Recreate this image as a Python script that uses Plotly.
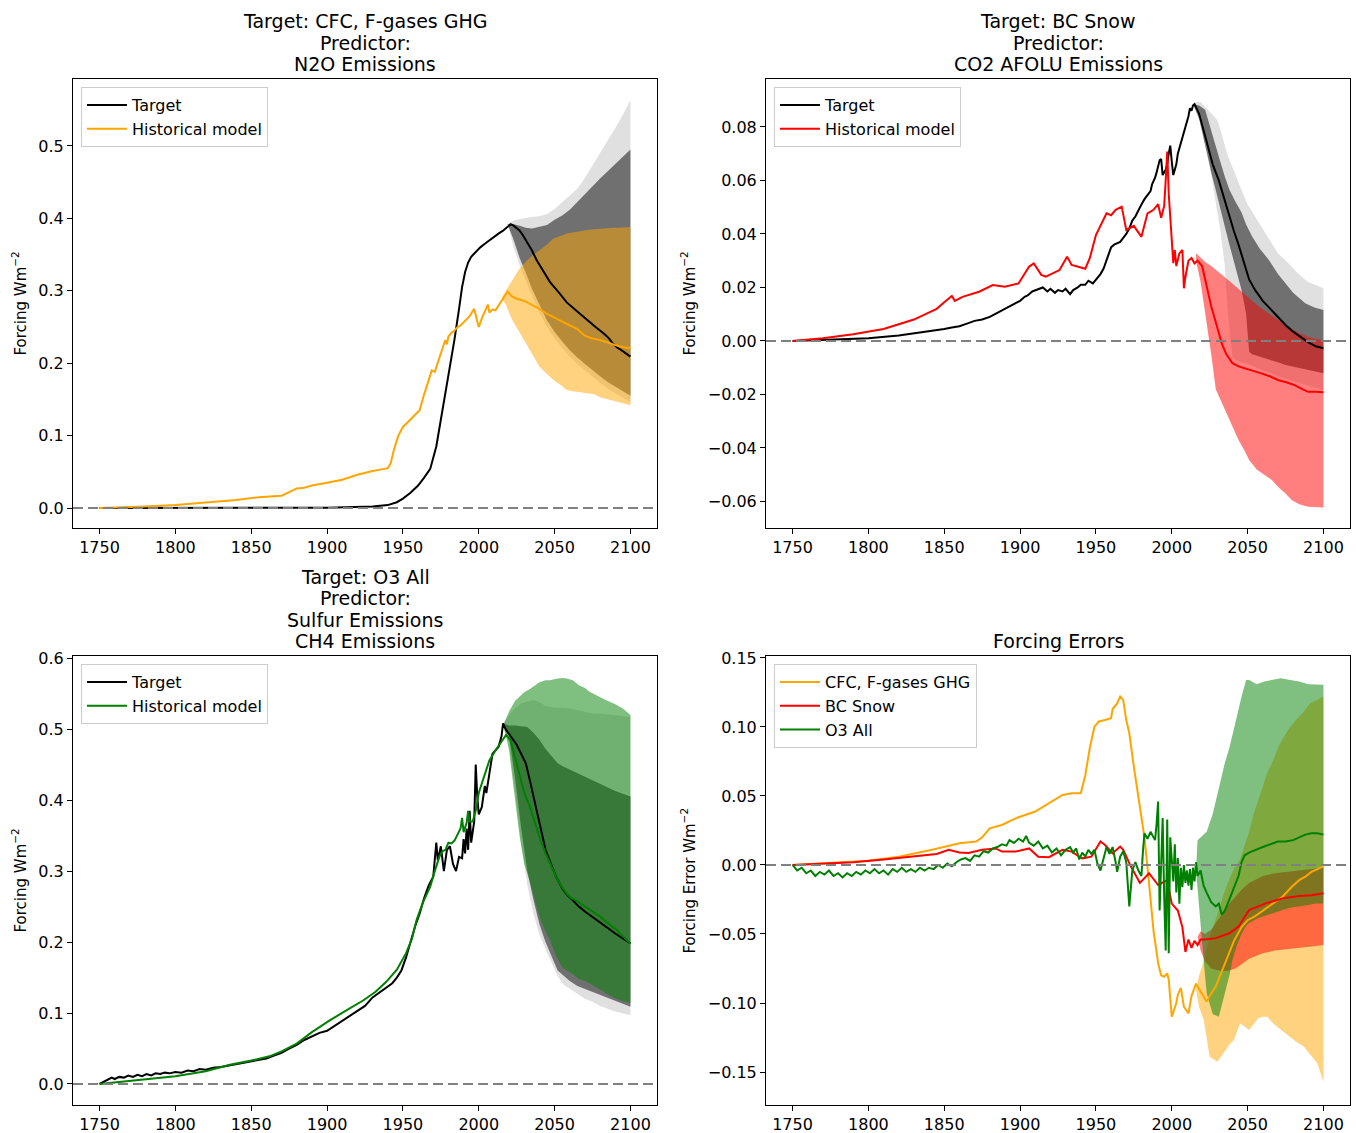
import plotly.graph_objects as go

FONT = "DejaVu Sans"
W, H = 1356, 1133

# ---------------- Panel 1: Target CFC, F-gases GHG ----------------
P1_TARGET = [(1750,0.0),(1800,0.0),(1850,0.0),(1900,0.0005),(1930,0.002),(1940,0.004),(1946,0.008),(1950,0.013),
             (1955,0.021),(1960,0.031),(1964,0.042),(1968,0.054),(1972,0.085),(1976,0.133),(1980,0.183),(1984,0.233),
             (1987,0.275),(1989,0.305),(1991,0.326),(1993,0.339),(1995,0.347),(1998,0.354),(2001,0.36),(2004,0.365),
             (2007,0.37),(2010,0.375),(2013,0.379),(2016,0.383),(2019,0.389),(2021,0.392),(2023,0.39),(2025,0.387),
             (2027,0.383),(2029,0.377),(2032,0.367),(2035,0.356),(2038,0.343),(2042,0.329),(2047,0.312),(2053,0.297),
             (2058,0.284),(2064,0.273),(2070,0.262),(2077,0.25),(2083,0.24),(2086,0.234),(2088,0.228),(2091,0.222),
             (2094,0.218),(2097,0.213),(2100,0.209)]
P1_MODEL = [(1750,0.0),(1760,0.0005),(1780,0.002),(1800,0.004),(1820,0.007),(1840,0.011),(1855,0.015),(1870,0.017),
            (1875,0.022),(1880,0.027),(1885,0.028),(1890,0.031),(1900,0.035),(1910,0.039),(1920,0.046),(1925,0.049),
            (1930,0.051),(1935,0.053),(1940,0.055),(1942,0.062),(1944,0.08),(1947,0.1),(1950,0.112),(1953,0.118),
            (1957,0.126),(1961,0.135),(1964,0.157),(1967,0.178),(1969,0.19),(1971,0.188),(1974,0.209),(1976,0.22),
            (1978,0.232),(1979,0.226),(1980,0.237),(1982,0.242),(1984,0.245),(1986,0.25),(1988,0.252),(1990,0.256),
            (1992,0.261),(1994,0.265),(1996,0.272),(1997,0.275),(1999,0.258),(2000,0.25),(2002,0.262),(2004,0.272),
            (2006,0.281),(2007,0.27),(2009,0.274),(2011,0.273),(2013,0.28),(2016,0.29),(2019,0.299),(2022,0.292),
            (2025,0.289),(2030,0.286),(2035,0.281),(2040,0.275),(2045,0.268),(2050,0.263),(2055,0.258),(2060,0.253),
            (2065,0.247),(2070,0.238),(2075,0.234),(2080,0.232),(2085,0.228),(2090,0.225),(2095,0.222),(2100,0.221)]
# (year, lower, upper)
P1_MODEL_BAND = [(2015,0.29,0.29),(2018,0.28,0.30),(2022,0.26,0.315),(2026,0.245,0.328),(2031,0.228,0.34),
                 (2036,0.21,0.35),(2040,0.195,0.356),(2045,0.185,0.364),(2049,0.177,0.372),(2054,0.17,0.376),
                 (2058,0.163,0.379),(2063,0.161,0.381),(2067,0.16,0.383),(2071,0.159,0.384),(2076,0.157,0.385),
                 (2080,0.153,0.386),(2084,0.15,0.386),(2088,0.148,0.387),(2092,0.146,0.387),(2096,0.144,0.388),
                 (2100,0.142,0.388)]
P1_TARGET_WIDE = [(2019,0.392,0.392),(2023,0.36,0.397),(2027,0.335,0.399),(2031,0.315,0.401),(2035,0.293,0.402),
                  (2040,0.27,0.403),(2045,0.25,0.406),(2050,0.234,0.413),(2055,0.221,0.422),(2060,0.209,0.432),
                  (2065,0.199,0.441),(2070,0.19,0.456),(2075,0.181,0.473),(2080,0.173,0.49),(2085,0.165,0.508),
                  (2090,0.158,0.525),(2095,0.152,0.543),(2100,0.146,0.563)]
P1_TARGET_NARROW = [(2019,0.392,0.392),(2023,0.37,0.392),(2027,0.345,0.39),(2031,0.325,0.387),(2035,0.303,0.386),
                    (2040,0.28,0.388),(2045,0.259,0.391),(2050,0.243,0.398),(2055,0.23,0.404),(2060,0.218,0.412),
                    (2065,0.208,0.423),(2070,0.199,0.434),(2075,0.19,0.445),(2080,0.182,0.455),(2085,0.174,0.465),
                    (2090,0.167,0.475),(2095,0.161,0.485),(2100,0.155,0.495)]

# ---------------- Panel 2: Target BC Snow ----------------
P2_TARGET = [(1750,0.0),(1760,0.0002),(1780,0.0005),(1800,0.001),(1820,0.002),(1840,0.0035),(1850,0.0045),
             (1855,0.005),(1860,0.0055),(1865,0.0065),(1870,0.0075),(1875,0.008),(1880,0.009),(1885,0.0105),
             (1890,0.012),(1895,0.0135),(1900,0.015),(1903,0.0165),(1905,0.017),(1908,0.0185),(1910,0.019),
             (1913,0.0195),(1915,0.02),(1918,0.0185),(1920,0.0195),(1923,0.018),(1925,0.019),(1928,0.0185),
             (1930,0.0195),(1933,0.0175),(1935,0.019),(1938,0.02),(1940,0.021),(1943,0.021),(1945,0.0225),
             (1948,0.0215),(1950,0.023),(1953,0.025),(1955,0.027),(1958,0.032),(1960,0.035),(1962,0.036),
             (1964,0.0365),(1966,0.037),(1968,0.0385),(1970,0.04),(1972,0.042),(1974,0.045),(1976,0.0465),
             (1978,0.049),(1980,0.051),(1982,0.053),(1984,0.0545),(1986,0.056),(1987,0.0585),(1989,0.061),
             (1990,0.063),(1991,0.065),(1992,0.0675),(1993,0.068),(1994,0.062),(1996,0.064),(1997,0.066),
             (1998,0.07),(1999,0.073),(2000,0.067),(2001,0.062),(2002,0.064),(2003,0.066),(2004,0.07),(2006,0.074),
             (2008,0.078),(2009,0.08),(2011,0.084),(2012,0.087),(2013,0.086),(2014,0.088),(2015,0.0885),
             (2018,0.085),(2021,0.079),(2024,0.072),(2027,0.066),(2031,0.06),(2034,0.054),(2038,0.047),(2041,0.041),
             (2044,0.036),(2047,0.03),(2051,0.023),(2055,0.019),(2060,0.015),(2065,0.012),(2070,0.009),(2075,0.006),
             (2080,0.0035),(2085,0.0015),(2090,-0.0005),(2095,-0.002),(2100,-0.0027)]
P2_MODEL = [(1750,0.0),(1770,0.001),(1790,0.0025),(1810,0.0045),(1830,0.008),(1845,0.012),(1850,0.0145),
            (1853,0.016),(1855,0.0168),(1857,0.015),(1862,0.0165),(1873,0.0184),(1882,0.0209),(1890,0.0203),
            (1899,0.0215),(1906,0.0278),(1909,0.029),(1914,0.0247),(1917,0.024),(1926,0.0265),(1931,0.0315),
            (1934,0.0284),(1943,0.027),(1946,0.031),(1950,0.0396),(1957,0.0477),(1960,0.047),(1963,0.049),
            (1967,0.0502),(1970,0.0415),(1975,0.043),(1980,0.0389),(1984,0.0477),(1988,0.049),(1991,0.0511),
            (1993,0.046),(1995,0.0505),(1996,0.06),(1997,0.0708),(1998,0.055),(1999,0.046),(2000,0.036),
            (2001,0.0291),(2002,0.034),(2003,0.028),(2005,0.0327),(2007,0.034),(2008,0.0197),(2009,0.024),
            (2011,0.03),(2013,0.031),(2015,0.029),(2017,0.03),(2020,0.028),(2023,0.021),(2026,0.013),(2030,0.005),
            (2033,-0.001),(2036,-0.005),(2040,-0.0083),(2044,-0.0095),(2048,-0.0102),(2054,-0.011),(2059,-0.0121),
            (2065,-0.0133),(2070,-0.0146),(2076,-0.0155),(2081,-0.0165),(2086,-0.018),(2090,-0.019),(2095,-0.019),
            (2100,-0.0192)]
P2_MODEL_BAND = [(2016,0.03,0.0328),(2019,0.022,0.031),(2022,0.0103,0.0295),(2026,-0.005,0.028),(2029,-0.018,0.0265),
                 (2032,-0.022,0.025),(2035,-0.0258,0.0238),(2040,-0.032,0.0215),(2044,-0.037,0.0195),
                 (2048,-0.041,0.0178),(2051,-0.0445,0.016),(2056,-0.048,0.0135),(2062,-0.0505,0.011),
                 (2066,-0.052,0.0095),(2070,-0.0545,0.0079),(2075,-0.057,0.006),(2079,-0.0594,0.0045),
                 (2084,-0.061,0.003),(2090,-0.062,0.0015),(2095,-0.0622,0.0008),(2100,-0.0622,0.0004)]
P2_TARGET_WIDE = [(2014,0.0885,0.0885),(2017,0.087,0.0895),(2019,0.085,0.0893),(2022,0.077,0.0875),
                  (2025,0.0664,0.0855),(2028,0.055,0.084),(2030,0.048,0.0826),(2032,0.0415,0.079),(2035,0.0278,0.073),
                  (2037,0.0103,0.069),(2040,-0.006,0.065),(2042,-0.007,0.062),(2046,-0.008,0.0564),(2050,-0.0085,0.051),
                  (2055,-0.0097,0.0465),(2060,-0.011,0.042),(2065,-0.012,0.0375),(2070,-0.0133,0.0328),
                  (2077,-0.0145,0.029),(2083,-0.0155,0.0253),(2090,-0.0167,0.022),(2100,-0.0183,0.0197)]
P2_TARGET_NARROW = [(2014,0.0885,0.0885),(2018,0.083,0.088),(2022,0.0726,0.0864),(2026,0.063,0.079),
                    (2029,0.0564,0.0726),(2032,0.05,0.067),(2035,0.0427,0.0614),(2038,0.036,0.0565),
                    (2042,0.0278,0.052),(2044,0.023,0.0502),(2046,0.019,0.048),(2049,0.0103,0.0435),
                    (2051,-0.004,0.041),(2053,-0.005,0.039),(2058,-0.006,0.0345),(2064,-0.007,0.0303),
                    (2070,-0.008,0.025),(2075,-0.009,0.0216),(2080,-0.0095,0.018),(2088,-0.0105,0.0141),
                    (2094,-0.0113,0.0125),(2100,-0.0121,0.0116)]

# ---------------- Panel 3: Target O3 All ----------------
P3_TARGET = [(1750,0.0),(1753,0.003),(1756,0.006),(1758,0.009),(1760,0.007),(1763,0.01),(1766,0.009),(1769,0.012),
             (1772,0.01),(1775,0.013),(1778,0.011),(1781,0.014),(1784,0.012),(1787,0.015),(1790,0.014),(1793,0.016),
             (1796,0.015),(1800,0.017),(1804,0.016),(1808,0.019),(1812,0.018),(1816,0.021),(1820,0.02),(1825,0.023),
             (1830,0.024),(1835,0.026),(1840,0.028),(1845,0.03),(1850,0.032),(1855,0.034),(1860,0.036),(1865,0.04),
             (1870,0.044),(1875,0.05),(1880,0.055),(1885,0.062),(1890,0.067),(1895,0.072),(1900,0.075),(1905,0.082),
             (1910,0.09),(1915,0.097),(1920,0.104),(1925,0.11),(1930,0.122),(1935,0.13),(1940,0.137),(1943,0.142),
             (1946,0.15),(1949,0.16),(1952,0.178),(1955,0.2),(1958,0.222),(1961,0.24),(1964,0.262),(1967,0.28),
             (1970,0.292),(1972,0.34),(1973,0.315),(1975,0.335),(1977,0.3),(1979,0.33),(1981,0.335),(1983,0.31),
             (1985,0.3),(1987,0.32),(1989,0.318),(1990,0.345),(1991,0.325),(1992,0.36),(1993,0.33),(1994,0.385),
             (1995,0.34),(1997,0.37),(1998,0.45),(1999,0.405),(2000,0.38),(2002,0.39),(2004,0.42),(2005,0.41),
             (2007,0.44),(2009,0.465),(2011,0.47),(2013,0.475),(2015,0.49),(2016,0.508),(2018,0.499),(2021,0.49),
             (2025,0.478),(2028,0.465),(2031,0.452),(2034,0.425),(2038,0.386),(2041,0.355),(2044,0.33),(2048,0.308),
             (2051,0.292),(2055,0.276),(2058,0.267),(2062,0.259),(2066,0.25),(2070,0.243),(2075,0.235),(2080,0.228),
             (2085,0.22),(2090,0.212),(2095,0.205),(2100,0.198)]
P3_MODEL = [(1750,0.0),(1760,0.002),(1780,0.006),(1800,0.011),(1820,0.018),(1836,0.027),(1850,0.033),(1862,0.039),
            (1870,0.046),(1880,0.057),(1890,0.073),(1902,0.09),(1913,0.104),(1924,0.118),(1932,0.13),(1939,0.144),
            (1946,0.161),(1952,0.184),(1956,0.205),(1959,0.231),(1963,0.255),(1968,0.278),(1971,0.3),(1974,0.32),
            (1976,0.328),(1978,0.33),(1980,0.34),(1982,0.339),(1984,0.343),(1986,0.352),(1988,0.36),(1989,0.375),
            (1990,0.355),(1992,0.368),(1993,0.385),(1994,0.37),(1996,0.37),(1998,0.385),(2000,0.41),(2003,0.43),
            (2007,0.456),(2011,0.47),(2014,0.48),(2018,0.492),(2021,0.484),(2024,0.46),(2027,0.433),(2030,0.41),
            (2034,0.389),(2037,0.368),(2040,0.348),(2044,0.325),(2047,0.31),(2051,0.292),(2054,0.28),(2058,0.268),
            (2061,0.262),(2064,0.259),(2068,0.253),(2071,0.249),(2076,0.242),(2080,0.236),(2085,0.227),(2091,0.217),
            (2095,0.208),(2100,0.198)]
P3_MODEL_BAND = [(2016,0.505,0.505),(2018,0.49,0.515),(2020,0.47,0.525),(2024,0.40,0.54),(2027,0.348,0.5455),
                 (2030,0.31,0.552),(2034,0.283,0.557),(2037,0.26,0.562),(2040,0.236,0.566),(2044,0.215,0.569),
                 (2047,0.203,0.569),(2051,0.18,0.571),(2055,0.165,0.572),(2058,0.16,0.5714),(2062,0.155,0.569),
                 (2066,0.148,0.562),(2070,0.145,0.558),(2073,0.142,0.5526),(2078,0.136,0.547),(2084,0.128,0.5408),
                 (2090,0.121,0.535),(2095,0.117,0.529),(2100,0.114,0.52)]
P3_TARGET_WIDE = [(2016,0.508,0.508),(2020,0.48,0.52),(2024,0.41,0.53),(2028,0.34,0.536),(2032,0.28,0.539),
                  (2036,0.24,0.541),(2040,0.21,0.538),(2044,0.19,0.533),(2048,0.17,0.531),(2052,0.152,0.531),
                  (2056,0.14,0.53),(2060,0.134,0.529),(2065,0.127,0.527),(2070,0.12,0.524),(2075,0.116,0.522),
                  (2080,0.11,0.522),(2085,0.106,0.521),(2090,0.102,0.52),(2095,0.099,0.519),(2100,0.097,0.517)]
P3_TARGET_NARROW = [(2016,0.508,0.508),(2020,0.49,0.505),(2024,0.43,0.505),(2028,0.36,0.504),(2032,0.30,0.503),
                    (2036,0.26,0.495),(2040,0.225,0.485),(2044,0.20,0.472),(2048,0.18,0.462),(2052,0.16,0.452),
                    (2056,0.152,0.447),(2060,0.145,0.443),(2065,0.138,0.438),(2070,0.133,0.432),(2075,0.13,0.427),
                    (2080,0.126,0.422),(2085,0.122,0.418),(2090,0.118,0.413),(2095,0.113,0.409),(2100,0.109,0.405)]

# ---------------- Panel 4: Forcing errors ----------------
P4_CFC = [(1750,0.0),(1760,0.0005),(1780,0.0015),(1800,0.003),(1820,0.006),(1842,0.011),(1860,0.0157),(1871,0.017),
          (1875,0.02),(1880,0.0266),(1888,0.029),(1897,0.0338),(1910,0.0387),(1917,0.0435),(1928,0.0507),
          (1934,0.0519),(1940,0.052),(1943,0.065),(1946,0.085),(1949,0.1002),(1952,0.104),(1956,0.105),
          (1960,0.1063),(1961,0.113),(1964,0.117),(1966,0.122),(1968,0.1196),(1970,0.105),(1972,0.0954),
          (1975,0.0712),(1978,0.0495),(1982,0.02),(1985,-0.013),(1988,-0.048),(1991,-0.071),(1993,-0.08),
          (1995,-0.081),(1997,-0.0785),(1998,-0.083),(2000,-0.11),(2003,-0.1),(2004,-0.094),(2006,-0.089),
          (2008,-0.1027),(2011,-0.1075),(2013,-0.095),(2016,-0.086),(2019,-0.092),(2021,-0.096),(2023,-0.099),
          (2026,-0.093),(2029,-0.088),(2033,-0.077),(2037,-0.066),(2041,-0.055),(2046,-0.045),(2050,-0.04),
          (2055,-0.037),(2060,-0.033),(2064,-0.03),(2068,-0.027),(2073,-0.023),(2079,-0.016),(2084,-0.011),
          (2088,-0.0085),(2092,-0.005),(2096,-0.003),(2100,-0.001)]
P4_BC = [(1750,0.0),(1770,0.001),(1790,0.002),(1810,0.004),(1830,0.006),(1845,0.008),(1853,0.011),(1860,0.009),
         (1866,0.0087),(1875,0.011),(1884,0.012),(1888,0.0097),(1897,0.0097),(1906,0.012),(1912,0.006),
         (1919,0.0056),(1928,0.011),(1934,0.0097),(1941,0.0048),(1947,0.006),(1953,0.017),(1956,0.0145),
         (1961,0.0085),(1966,0.0133),(1968,0.011),(1973,-0.001),(1979,-0.013),(1985,-0.006),(1991,-0.0145),
         (1997,-0.011),(2000,-0.028),(2004,-0.033),(2007,-0.045),(2009,-0.063),(2011,-0.054),(2013,-0.06),
         (2015,-0.055),(2017,-0.058),(2019,-0.054),(2022,-0.054),(2029,-0.053),(2038,-0.0495),(2044,-0.0447),
         (2051,-0.0326),(2062,-0.0278),(2073,-0.0242),(2084,-0.0225),(2092,-0.022),(2100,-0.0205)]
P4_O3 = [(1750,0.0),(1753,-0.004),(1756,-0.002),(1759,-0.006),(1762,-0.004),(1765,-0.008),(1768,-0.005),
         (1771,-0.007),(1774,-0.004),(1777,-0.008),(1780,-0.006),(1783,-0.009),(1786,-0.006),(1789,-0.008),
         (1792,-0.005),(1795,-0.007),(1798,-0.004),(1801,-0.006),(1804,-0.003),(1807,-0.006),(1810,-0.004),
         (1813,-0.007),(1816,-0.003),(1819,-0.005),(1822,-0.002),(1825,-0.005),(1828,-0.003),(1831,-0.005),
         (1834,-0.002),(1837,-0.004),(1840,-0.002),(1843,-0.003),(1846,0.0),(1849,-0.002),(1852,0.001),
         (1855,-0.001),(1858,0.002),(1861,0.004),(1864,0.005),(1867,0.003),(1870,0.007),(1873,0.006),(1876,0.01),
         (1879,0.009),(1882,0.012),(1885,0.013),(1888,0.015),(1891,0.014),(1893,0.018),(1896,0.016),(1899,0.019),
         (1902,0.017),(1904,0.021),(1906,0.016),(1909,0.014),(1912,0.017),(1915,0.012),(1918,0.014),(1921,0.009),
         (1924,0.012),(1927,0.007),(1930,0.011),(1933,0.013),(1935,0.009),(1937,0.012),(1939,0.004),(1941,0.009),
         (1943,0.006),(1945,0.011),(1947,0.008),(1949,0.011),(1951,0.001),(1953,-0.004),(1955,0.004),(1957,0.013),
         (1959,0.008),(1961,0.013),(1963,0.002),(1964,-0.005),(1966,0.006),(1968,0.01),(1970,0.002),(1972,-0.03),
         (1974,-0.004),(1976,0.002),(1978,-0.004),(1980,-0.008),(1981,0.01),(1982,0.023),(1984,0.019),(1986,0.024),
         (1988,0.02),(1989,0.018),(1990,0.03),(1991,0.046),(1992,-0.033),(1993,0.001),(1994,0.034),(1995,-0.023),
         (1996,-0.062),(1997,0.033),(1998,-0.064),(1999,0.02),(2000,0.006),(2001,-0.012),(2002,0.015),(2003,-0.02),
         (2004,0.005),(2005,-0.028),(2006,-0.002),(2007,-0.016),(2008,0.0),(2009,-0.013),(2010,-0.004),(2011,-0.015),
         (2012,-0.003),(2013,-0.018),(2014,-0.002),(2015,-0.012),(2016,0.002),(2017,-0.008),(2019,-0.004),
         (2021,-0.015),(2023,-0.02),(2026,-0.027),(2029,-0.03),(2031,-0.028),(2033,-0.036),(2035,-0.033),
         (2038,-0.025),(2041,-0.017),(2044,-0.008),(2046,0.002),(2048,0.007),(2051,0.009),(2055,0.011),(2060,0.013),
         (2065,0.015),(2070,0.017),(2075,0.017),(2080,0.018),(2084,0.02),(2088,0.022),(2092,0.023),(2096,0.023),
         (2100,0.022)]
P4_CFC_BAND = [(2016,-0.09,-0.09),(2018,-0.103,-0.08),(2021,-0.112,-0.07),(2025,-0.139,-0.052),(2030,-0.1425,-0.036),
               (2034,-0.1365,-0.022),(2038,-0.13,-0.01),(2041,-0.1268,-0.003),(2045,-0.1147,0.004),(2048,-0.117,0.014),
               (2051,-0.1196,0.024),(2054,-0.115,0.037),(2057,-0.111,0.047),(2060,-0.11,0.058),(2063,-0.11,0.067),
               (2067,-0.115,0.076),(2070,-0.1171,0.085),(2074,-0.121,0.093),(2078,-0.1244,0.1),(2082,-0.128,0.105),
               (2087,-0.1316,0.111),(2091,-0.137,0.117),(2096,-0.1437,0.12),(2100,-0.157,0.122)]
P4_BC_BAND = [(2017,-0.052,-0.052),(2019,-0.062,-0.048),(2022,-0.07,-0.05),(2026,-0.075,-0.047),(2029,-0.076,-0.042),
              (2033,-0.077,-0.036),(2038,-0.0765,-0.028),(2042,-0.075,-0.023),(2046,-0.072,-0.018),(2051,-0.068,-0.013),
              (2055,-0.066,-0.011),(2060,-0.064,-0.008),(2068,-0.062,-0.006),(2075,-0.061,-0.005),(2084,-0.06,-0.0036),
              (2092,-0.059,-0.003),(2100,-0.058,-0.002)]
P4_O3_BAND = [(2016,-0.004,-0.004),(2017,-0.02,0.018),(2020,-0.056,0.021),(2023,-0.093,0.024),(2027,-0.108,0.037),
              (2031,-0.11,0.055),(2033,-0.103,0.066),(2035,-0.093,0.074),(2038,-0.08,0.085),(2040,-0.069,0.095),
              (2043,-0.058,0.108),(2046,-0.05,0.122),(2049,-0.044,0.134),(2051,-0.042,0.134),(2056,-0.039,0.131),
              (2061,-0.037,0.133),(2066,-0.035,0.134),(2072,-0.033,0.1353),(2078,-0.031,0.134),(2084,-0.03,0.133),
              (2090,-0.029,0.131),(2095,-0.028,0.1305),(2100,-0.028,0.1305)]

# ---------------- Ticks / labels ----------------
X_TICKS = [1750, 1800, 1850, 1900, 1950, 2000, 2050, 2100]
P1_YTICKS = [0.0, 0.1, 0.2, 0.3, 0.4, 0.5]
P2_YTICKS = [-0.06, -0.04, -0.02, 0.0, 0.02, 0.04, 0.06, 0.08]
P3_YTICKS = [0.0, 0.1, 0.2, 0.3, 0.4, 0.5, 0.6]
P4_YTICKS = [-0.15, -0.10, -0.05, 0.0, 0.05, 0.10, 0.15]
TITLES = [["Target: CFC, F-gases GHG", "Predictor:", "N2O Emissions"],
          ["Target: BC Snow", "Predictor:", "CO2 AFOLU Emissions"],
          ["Target: O3 All", "Predictor:", "Sulfur Emissions", "CH4 Emissions"],
          ["Forcing Errors"]]
YLABELS = ["Forcing Wm<sup>\u22122</sup>", "Forcing Wm<sup>\u22122</sup>",
           "Forcing Wm<sup>\u22122</sup>", "Forcing Error Wm<sup>\u22122</sup>"]

# axes pixel boxes (left, top, right, bottom)
BOXES = [(73, 79, 657, 528), (766, 79, 1350, 528), (73, 656, 657, 1105), (766, 656, 1350, 1105)]
X_RANGE = [1732.5, 2117.5]
Y_RANGES = [[-0.0276, 0.5925], [-0.0699, 0.0979], [-0.0296, 0.6031], [-0.1739, 0.1514]]

TICK_SIZE = 16
LEG_SIZE = 16
TITLE_SIZE = 19

fig = go.Figure()


def unzip(pairs):
    return [p[0] for p in pairs], [p[1] for p in pairs]


def axis_ids(k):
    s = "" if k == 1 else str(k)
    return "x" + s, "y" + s


def add_line(k, pairs, color, name=None, legend=None):
    xs, ys = unzip(pairs)
    xa, ya = axis_ids(k)
    fig.add_trace(go.Scatter(x=xs, y=ys, mode="lines", line=dict(color=color, width=2),
                             name=name, showlegend=name is not None, legend=legend,
                             xaxis=xa, yaxis=ya, hoverinfo="skip"))


def add_band(k, triples, fill):
    xs = [t[0] for t in triples]
    lo = [t[1] for t in triples]
    hi = [t[2] for t in triples]
    xa, ya = axis_ids(k)
    fig.add_trace(go.Scatter(x=xs + xs[::-1], y=hi + lo[::-1], mode="lines", fill="toself",
                             fillcolor=fill, line=dict(width=0, color="rgba(0,0,0,0)"),
                             showlegend=False, hoverinfo="skip", xaxis=xa, yaxis=ya))


GRAY_W = "rgba(0,0,0,0.12)"
GRAY_N = "rgba(0,0,0,0.5)"
ORANGE, RED, GREEN = "#FFA500", "#FF0000", "#008000"
ORANGE_F, RED_F, GREEN_F = "rgba(255,165,0,0.5)", "rgba(255,0,0,0.5)", "rgba(0,128,0,0.5)"

# Panel 1
add_band(1, P1_TARGET_WIDE, GRAY_W)
add_band(1, P1_TARGET_NARROW, GRAY_N)
add_band(1, P1_MODEL_BAND, ORANGE_F)
add_line(1, P1_TARGET, "black", "Target", "legend")
add_line(1, P1_MODEL, ORANGE, "Historical model", "legend")
# Panel 2
add_band(2, P2_TARGET_WIDE, GRAY_W)
add_band(2, P2_TARGET_NARROW, GRAY_N)
add_band(2, P2_MODEL_BAND, RED_F)
add_line(2, P2_TARGET, "black", "Target", "legend2")
add_line(2, P2_MODEL, RED, "Historical model", "legend2")
# Panel 3
add_band(3, P3_TARGET_WIDE, GRAY_W)
add_band(3, P3_TARGET_NARROW, GRAY_N)
add_band(3, P3_MODEL_BAND, GREEN_F)
add_line(3, P3_TARGET, "black", "Target", "legend3")
add_line(3, P3_MODEL, GREEN, "Historical model", "legend3")
# Panel 4
add_band(4, P4_CFC_BAND, ORANGE_F)
add_band(4, P4_BC_BAND, RED_F)
add_band(4, P4_O3_BAND, GREEN_F)
add_line(4, P4_CFC, ORANGE, "CFC, F-gases GHG", "legend4")
add_line(4, P4_BC, RED, "BC Snow", "legend4")
add_line(4, P4_O3, GREEN, "O3 All", "legend4")

layout = dict(width=W, height=H, margin=dict(l=0, r=0, t=0, b=0, autoexpand=False), paper_bgcolor="white",
              plot_bgcolor="white", font=dict(family=FONT, size=TICK_SIZE, color="black"), showlegend=True)

ytick_sets = [P1_YTICKS, P2_YTICKS, P3_YTICKS, P4_YTICKS]
ytick_fmt = ["{:.1f}", "{:.2f}", "{:.1f}", "{:.2f}"]


def fmt(v, f):
    s = f.format(v)
    if s.startswith("-"):
        s = "\u2212" + s[1:]
    return s


annotations = []
shapes = []
for i, (l, t, r, b) in enumerate(BOXES):
    k = i + 1
    sfx = "" if k == 1 else str(k)
    xd = [l / W, r / W]
    yd = [1 - b / H, 1 - t / H]
    axis_common = dict(showline=True, linecolor="black", linewidth=1, mirror=True, ticks="outside",
                       ticklen=5, tickwidth=1, tickcolor="black", showgrid=False, zeroline=False,
                       tickfont=dict(family=FONT, size=TICK_SIZE, color="black"), automargin=False)
    layout["xaxis" + sfx] = dict(domain=xd, range=X_RANGE, anchor="y" + sfx, tickmode="array",
                                 tickvals=X_TICKS, ticktext=[str(v) for v in X_TICKS], **axis_common)
    layout["yaxis" + sfx] = dict(domain=yd, range=Y_RANGES[i], anchor="x" + sfx, tickmode="array",
                                 tickvals=ytick_sets[i], ticktext=[fmt(v, ytick_fmt[i]) for v in ytick_sets[i]],
                                 **axis_common)
    # zero dashed line
    shapes.append(dict(type="line", xref="x" + sfx + " domain", x0=0, x1=1, yref="y" + sfx, y0=0, y1=0,
                       line=dict(color="#808080", width=2, dash="10px,5px"), layer="above"))
    # title, one annotation per line, 21 px apart, last line centred 15 px above the axes
    lines = TITLES[i]
    n = len(lines)
    for j, txt in enumerate(lines):
        yc = t - 15 - (n - 1 - j) * 21.3
        annotations.append(dict(text=txt, xref="paper", yref="paper", x=(l + r) / 2 / W, y=1 - yc / H,
                                xanchor="center", yanchor="middle", showarrow=False,
                                font=dict(family=FONT, size=TITLE_SIZE, color="black")))
    # y label
    annotations.append(dict(text=YLABELS[i], xref="paper", yref="paper", x=(19 if l < 500 else 688) / W,
                            y=1 - (t + b) / 2 / H, xanchor="center", yanchor="middle", textangle=-90,
                            showarrow=False, font=dict(family=FONT, size=15, color="black")))
    # legend
    leg = dict(x=(l + 8) / W, y=1 - (t + 8) / H, xanchor="left", yanchor="top", bgcolor="rgba(255,255,255,0.8)",
               bordercolor="#cccccc", borderwidth=1, font=dict(family=FONT, size=LEG_SIZE, color="black"),
               tracegroupgap=0, itemwidth=40)
    layout["legend" if k == 1 else "legend" + str(k)] = leg

layout["annotations"] = annotations
layout["shapes"] = shapes
fig.update_layout(**layout)
fig.write_html("out.html")
